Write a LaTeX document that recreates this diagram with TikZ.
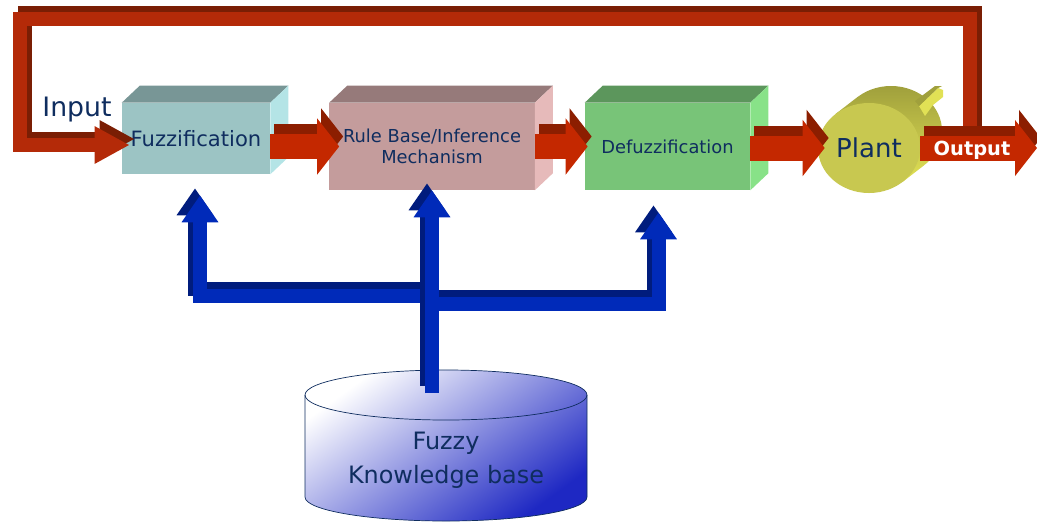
\documentclass[tikz,border=0pt]{standalone}
\usepackage{fontspec}
\setmainfont{DejaVu Sans}
\usetikzlibrary{shapes.geometric,arrows.meta,calc}
\definecolor{navy}{RGB}{15,45,95}
\definecolor{fuzzfront}{RGB}{156,196,196}
\definecolor{fuzztop}{RGB}{120,150,150}
\definecolor{fuzzside}{RGB}{180,228,230}
\definecolor{rulefront}{RGB}{196,156,156}
\definecolor{ruletop}{RGB}{150,122,122}
\definecolor{ruleside}{RGB}{230,186,186}
\definecolor{defuzzfront}{RGB}{120,196,120}
\definecolor{defuzztop}{RGB}{92,150,92}
\definecolor{defuzzside}{RGB}{136,226,136}
\definecolor{plantfront}{RGB}{200,200,80}
\definecolor{plantdark}{RGB}{160,160,60}
\definecolor{plantlight}{RGB}{225,225,85}
\definecolor{redfront}{RGB}{196,40,0}
\definecolor{redtop}{RGB}{140,30,0}
\definecolor{loopfront}{RGB}{180,42,8}
\definecolor{looptop}{RGB}{122,30,4}
\definecolor{bluefront}{RGB}{0,42,185}
\definecolor{bluetop}{RGB}{0,28,125}
\definecolor{kbblue}{RGB}{30,40,195}
\tikzstyle{block} = [rectangle, inner sep=0pt, text=navy, align=center,
    font=\fontsize{12.7}{15}\selectfont]
\tikzstyle{redarrow} = [draw=redfront, line width=0.625cm,
    -{Triangle[length=0.55cm, width=1.375cm]}]
\tikzstyle{redshade} = [redarrow, draw=redtop, transform canvas={shift={(4,10)}}]
\tikzstyle{bluearrow} = [draw=bluefront, line width=0.35cm,
    -{Triangle[length=0.675cm, width=0.875cm]}]
\tikzstyle{blueshade} = [bluearrow, draw=bluetop, transform canvas={shift={(-5,7)}}]
\tikzstyle{loopline} = [draw=loopfront, line width=0.33cm,
    -{Triangle[length=0.875cm, width=0.875cm]}]
\tikzstyle{loopshade} = [loopline, draw=looptop, transform canvas={shift={(5,6)}}]
\tikzstyle{kbline} = [draw=navy, line width=0.5pt]
% top and side faces of a block: node, top colour, side colour
\newcommand{\boxfaces}[3]{%
  \fill[#2] (#1.north west) -- ++(18,17) -- ($(#1.north east)+(18,17)$) -- (#1.north east) -- cycle;
  \fill[#3] (#1.north east) -- ++(18,17) -- ($(#1.south east)+(18,17)$) -- (#1.south east) -- cycle;}

\begin{document}
\begin{tikzpicture}[x=0.025cm, y=0.025cm]
	\useasboundingbox (0,0) rectangle (1037,-521);

	% feedback loop
	\coordinate (fb) at (970,-135);
	\node[text=navy, font=\fontsize{19}{22}\selectfont] (input) at (77,-110) {Input};

	% blocks
	\node [block, fill=fuzzfront, minimum width=3.7cm, minimum height=1.775cm, font=\fontsize{15}{18}\selectfont] (fuzz) at (196,-138.5) {Fuzzification};
	\node [block, fill=rulefront, minimum width=5.125cm, minimum height=2.175cm] (rule) at (432,-146.5) {Rule Base/Inference\\Mechanism};
	\node [block, fill=defuzzfront, minimum width=4.125cm, minimum height=2.175cm] (defuzz) at (667.5,-146.5) {Defuzzification};
	\boxfaces{fuzz}{fuzztop}{fuzzside}
	\boxfaces{rule}{ruletop}{ruleside}
	\boxfaces{defuzz}{defuzztop}{defuzzside}

	% plant
	\shade[top color=plantdark, bottom color=plantlight] (891,-131) ellipse [x radius=51, y radius=45]
		(835.4,-114.1) -- (902.6,-181.9) -- (924.6,-164.9) -- (857.4,-97.1) -- cycle;
	\fill[plantlight] (919,-106) -- (938,-88) -- (943,-90) -- (943,-97) -- (933,-105) -- (925,-116) -- cycle;
	\fill[plantdark] (915,-101) -- (935,-86) -- (942,-86) -- (938,-88) -- (919,-106) -- cycle;
	\node [ellipse, fill=plantfront, inner sep=0pt, minimum width=2.55cm, minimum height=2.25cm,
		text=navy, font=\fontsize{18.5}{22}\selectfont] (plant) at (869,-148) {Plant};

	\draw[loopshade] (fb) |- (20,-19) |- ($(fuzz.west)+(8,-6.5)$);
	\draw[loopline] (fb) |- (20,-19) |- ($(fuzz.west)+(8,-6.5)$);

	% forward arrows
	\coordinate (out) at (1037,-148);
	\draw[redshade] (fuzz.east |- rule.west) -- ($(rule.west)+(10,0)$);
	\draw[redarrow] (fuzz.east |- rule.west) -- ($(rule.west)+(10,0)$);
	\draw[redshade] (rule.east |- defuzz.west) -- ($(defuzz.west)+(3,0)$);
	\draw[redarrow] (rule.east |- defuzz.west) -- ($(defuzz.west)+(3,0)$);
	\draw[redshade] (defuzz.east |- plant.west) -- ($(plant.west)+(7,0)$);
	\draw[redarrow] (defuzz.east |- plant.west) -- ($(plant.west)+(7,0)$);
	\draw[redshade] (plant.east) -- (out);
	\draw[redarrow] (plant.east) -- (out);
	\node[text=white, font=\bfseries\fontsize{13.8}{16}\selectfont] (outlbl) at (972,-150) {Output};

	% knowledge base
	\shade[top color=white, middle color=kbblue!12, bottom color=kbblue, shading angle=36]
		(305,-395) -- (305,-497) arc [start angle=180, end angle=360, x radius=141, y radius=24]
		-- (587,-395) arc [start angle=0, end angle=180, x radius=141, y radius=25] -- cycle;
	\draw[kbline] (305,-395) -- (305,-497) arc [start angle=180, end angle=360, x radius=141, y radius=24] -- (587,-395);
	\draw[kbline] (446,-395) ellipse [x radius=141, y radius=25];
	\node[text=navy, align=center, font=\fontsize{17}{24}\selectfont] (kb) at (446,-460) {Fuzzy\\Knowledge base};
	\coordinate (kbtop) at (432,-393);

	% rule base links
	\coordinate (hubL) at (434,-296);
	\coordinate (hubR) at (434,-304);
	\draw[blueshade] (hubL) -| ($(fuzz.south)+(4,-21)$);
	\draw[bluearrow] (hubL) -| ($(fuzz.south)+(4,-21)$);
	\draw[blueshade] (hubR) -| ($(defuzz.south)+(-9,-22)$);
	\draw[bluearrow] (hubR) -| ($(defuzz.south)+(-9,-22)$);
	\draw[blueshade] (kbtop) -- (rule.south);
	\draw[bluearrow] (kbtop) -- (rule.south);
\end{tikzpicture}
\end{document}
